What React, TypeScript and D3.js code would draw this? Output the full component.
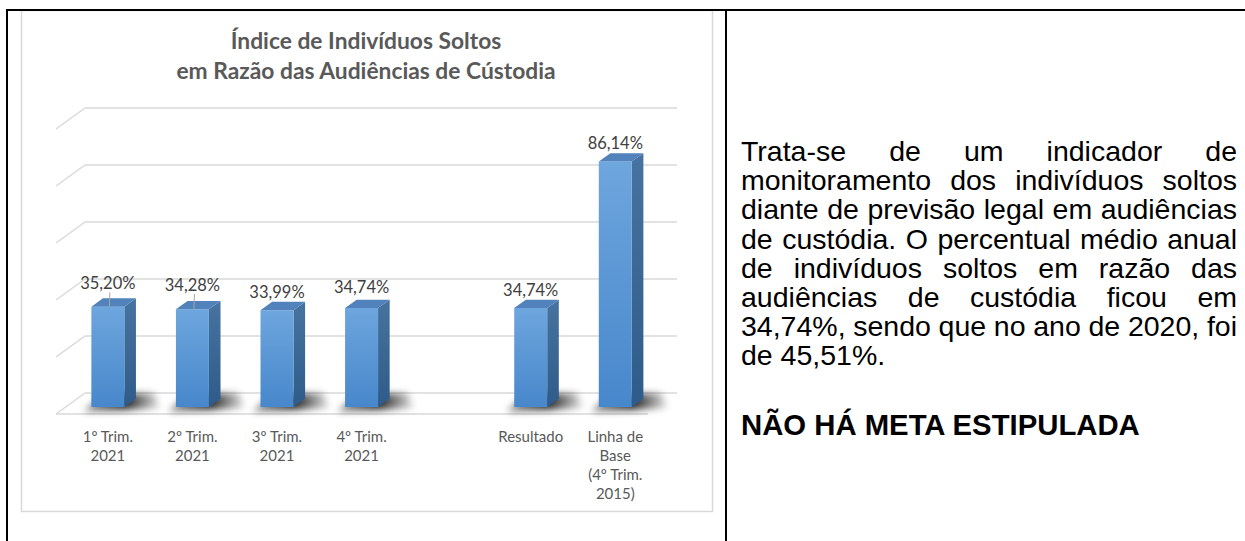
import React from 'react';
import * as d3 from 'd3';

// ---------- data ----------
const categories = ["1º Trim.|2021", "2º Trim.|2021", "3º Trim.|2021", "4º Trim.|2021", "", "Resultado", "Linha de|Base|(4º Trim.|2015)"];
const values: (number | null)[] = [35.2, 34.28, 33.99, 34.74, null, 34.74, 86.14];
const valueLabels = ["35,20%", "34,28%", "33,99%", "34,74%", "", "34,74%", "86,14%"];
const gridTicks = [0, 20, 40, 60, 80, 100];
const titleLines = ["Índice de Indivíduos Soltos", "em Razão das Audiências de Cústodia"];
const bodyLines = [
  "Trata-se de um indicador de",
  "monitoramento dos indivíduos soltos",
  "diante de previsão legal em audiências",
  "de custódia. O percentual médio anual",
  "de indivíduos soltos em razão das",
  "audiências de custódia ficou em",
  "34,74%, sendo que no ano de 2020, foi",
  "de 45,51%.",
];
const heading = "NÃO HÁ META ESTIPULADA";

// ---------- layout ----------
const W = 1245, H = 541;
const wallL = 85, wallR = 677, wallB = 393, wallT = 108;
const DX = -29, DY = 21; // depth vector (back -> front)
const dFront = 0.67, dBack = 0.27;
const labelLift = [5, 6, 0, 3, 0, 0, 0];
const leader = [true, true, false, false, false, false, false];

const bodyFont = "'Liberation Sans', Arial, sans-serif";
const bodySize = 28.5;
const headingSize = 29.3;
const textL = 741, textR = 1237;
const bodyTop = 161, bodyStep = 29.2;
const chartFont = "Lato, 'Open Sans', sans-serif";

let ctx: CanvasRenderingContext2D | null = null;
function measure(t: string, font: string) {
  if (!ctx) ctx = document.createElement('canvas').getContext('2d');
  ctx!.font = font;
  return ctx!.measureText(t).width;
}

export default function App() {
  const y = d3.scaleLinear().domain([0, 100]).range([wallB, wallT]);
  const x = d3.scaleBand<string>().domain(categories.map((_, i) => String(i))).range([wallL, wallR]).paddingInner(0.61).paddingOuter(0.305);
  const P = (xw: number, v: number, d: number): [number, number] => [xw + DX * d, y(v) + DY * d];
  const poly = (pts: [number, number][]) => pts.map(p => p.join(',')).join(' ');

  const font = `${bodySize}px ${bodyFont}`;
  const spaceW = measure(' ', font);

  return (
    <svg width={W} height={H} style={{ position: 'fixed', left: 0, top: 0, background: '#fff' }}>
      <defs>
        <linearGradient id="front" x1="0" y1="0" x2="0" y2="1">
          <stop offset="0" stopColor="#6ea6de" />
          <stop offset="1" stopColor="#4787cb" />
        </linearGradient>
        <linearGradient id="side" x1="0" y1="0" x2="0" y2="1">
          <stop offset="0" stopColor="#46739f" />
          <stop offset="1" stopColor="#2e5b89" />
        </linearGradient>
        <linearGradient id="shadow" x1="0" y1="0" x2="1" y2="0">
          <stop offset="0" stopColor="#000" stopOpacity={0.35} />
          <stop offset="0.55" stopColor="#000" stopOpacity={0.85} />
          <stop offset="1" stopColor="#000" stopOpacity={0.1} />
        </linearGradient>
        <filter id="blur" x="-50%" y="-100%" width="200%" height="300%">
          <feGaussianBlur stdDeviation="3.5" />
        </filter>
      </defs>
      {/* chart frame */}
      <rect x={21.5} y={10.5} width={691} height={501} fill="#fff" stroke="#d9d9d9" strokeWidth={1.5} />
      {/* title */}
      {titleLines.map((t, i) => (
        <text key={i} x={366} y={49 + i * 30} textAnchor="middle" fontFamily={chartFont} fontWeight="bold" fontSize={22.8} fill="#595959">{t}</text>
      ))}
      {/* gridlines: back wall + side wall */}
      {gridTicks.map(t => (
        <g key={t} stroke="#d9d9d9" strokeWidth={1.5} fill="none">
          <line x1={wallL} x2={wallR} y1={y(t)} y2={y(t)} />
          <line x1={wallL + DX} y1={y(t) + DY} x2={wallL} y2={y(t)} />
        </g>
      ))}
      {/* floor front edge */}
      <line x1={wallL + DX} x2={wallR + DX} y1={wallB + DY} y2={wallB + DY} stroke="#d9d9d9" strokeWidth={1.5} />
      {/* shadows */}
      {values.map((v, i) => {
        if (v == null) return null;
        const x0 = x(String(i))!, x1 = x0 + x.bandwidth();
        const fl = P(x0, 0, dFront), sr = P(x1, 0, dBack);
        const d = `M${fl[0] - 8},${fl[1] + 5} L${sr[0] + 24},${fl[1] + 1} L${sr[0] + 18},${sr[1] - 6} L${fl[0] + 10},${sr[1] - 4} Z`;
        return <path key={'s' + i} d={d} fill="url(#shadow)" filter="url(#blur)" />;
      })}
      {/* bars */}
      {values.map((v, i) => {
        if (v == null) return null;
        const x0 = x(String(i))!, x1 = x0 + x.bandwidth();
        const front = [P(x0, v, dFront), P(x1, v, dFront), P(x1, 0, dFront), P(x0, 0, dFront)] as [number, number][];
        const side = [P(x1, v, dFront), P(x1, v, dBack), P(x1, 0, dBack), P(x1, 0, dFront)] as [number, number][];
        const top = [P(x0, v, dFront), P(x1, v, dFront), P(x1, v, dBack), P(x0, v, dBack)] as [number, number][];
        return (
          <g key={'b' + i}>
            <polygon points={poly(side)} fill="url(#side)" />
            <polygon points={poly(front)} fill="url(#front)" />
            <polygon points={poly(top)} fill="#5182bb" />
          </g>
        );
      })}
      {/* value labels */}
      {values.map((v, i) => {
        if (v == null) return null;
        const x0 = x(String(i))!;
        const cx = P(x0 + x.bandwidth() / 2, v, dFront)[0];
        const topBack = P(x0, v, dBack)[1];
        const by = topBack - 4 - labelLift[i];
        return (
          <g key={'l' + i}>
            {leader[i] && <line x1={cx + 2} y1={by + 3} x2={cx + 1.5} y2={topBack + 8} stroke="#a6a6a6" strokeWidth={1} />}
            <text x={cx} y={by} textAnchor="middle" fontFamily={chartFont} fontSize={16.5} fill="#404040">{valueLabels[i]}</text>
          </g>
        );
      })}
      {/* category labels */}
      {categories.map((c, i) => {
        if (!c) return null;
        const cx = P(x(String(i))! + x.bandwidth() / 2, 0, dFront)[0];
        return (
          <text key={'c' + i} textAnchor="middle" fontFamily={chartFont} fontSize={15} fill="#595959">
            {c.split('|').map((ln, j) => <tspan key={j} x={cx} y={442 + j * 19}>{ln}</tspan>)}
          </text>
        );
      })}
      {/* table borders */}
      <rect x={6} y={9} width={W - 6} height={2} fill="#000" />
      <rect x={6} y={9} width={2} height={H - 9} fill="#000" />
      <rect x={725} y={9} width={2} height={H - 9} fill="#000" />
      {/* body text, justified */}
      {bodyLines.map((ln, i) => {
        const words = ln.split(' ');
        const last = i === bodyLines.length - 1;
        const widths = words.map(w => measure(w, font));
        const total = widths.reduce((a, b) => a + b, 0);
        const gap = last || words.length < 2 ? spaceW : (textR - textL - total) / (words.length - 1);
        let cx = textL;
        return (
          <g key={'t' + i}>
            {words.map((w, j) => {
              const el = <text key={j} x={cx} y={bodyTop + i * bodyStep} fontFamily={bodyFont} fontSize={bodySize} fill="#000">{w}</text>;
              cx += widths[j] + gap;
              return el;
            })}
          </g>
        );
      })}
      <text x={textL} y={435} fontFamily={bodyFont} fontSize={headingSize} fontWeight="bold" fill="#000">{heading}</text>
    </svg>
  );
}
